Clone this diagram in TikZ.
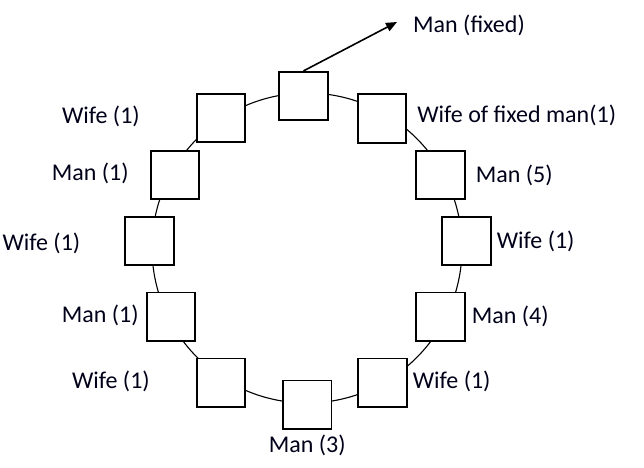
\documentclass[tikz,border=0pt]{standalone}
\usepackage{fontspec}
\setmainfont{Carlito}
\usetikzlibrary{arrows.meta, positioning}

\begin{document}
\begin{tikzpicture}[
    x=1pt, y=-1pt,
    >={Triangle[width=9pt,length=11pt]},
    every node/.style={font=\fontsize{24}{28}\selectfont},
    seat/.style={draw, line width=1.7pt, fill=white, minimum size=48.5pt, inner sep=0pt},
    lbl/.style={inner sep=0pt, text=black!90!blue},
]
\useasboundingbox (0,0) rectangle (644,467);
% the round table
\draw[line width=1.1pt] (307,248) circle (155pt);
% seats, clockwise from the fixed man
\node[seat] (m0) at (303.5,96) {};
\node[seat] (wf) at (382,118.5) {};
\node[seat] (m5) at (440.5,175) {};
\node[seat] (w5) at (466.5,241) {};
\node[seat] (m4) at (440.5,316.7) {};
\node[seat] (w4) at (382.5,382.7) {};
\node[seat] (m3) at (307.3,404.7) {};
\node[seat] (w3) at (221,382.7) {};
\node[seat] (m2) at (171,316.7) {};
\node[seat] (w2) at (149.5,241) {};
\node[seat] (m1) at (175,175) {};
\node[seat] (w1) at (221,118) {};
% the fixed man
\coordinate (tip) at (397,22);
\node[lbl, anchor=west] (lm0) at (413,25) {Man (fixed)};
\draw[->, line width=1.6pt] (m0.north) -- (tip);
% labels
\node[lbl, right=10pt of wf, yshift=3pt] (lwf) {Wife of fixed man(1)};
\node[lbl, right=10pt of m5] (lm5) {Man (5)};
\node[lbl, right=5pt of w5] (lw5) {Wife (1)};
\node[lbl, right=6pt of m4] (lm4) {Man (4)};
\node[lbl, right=5pt of w4, yshift=1.5pt] (lw4) {Wife (1)};
\node[lbl, below=5pt of m3] (lm3) {Man (3)};
\node[lbl, left=46pt of w3, yshift=1.5pt] (lw3) {Wife (1)};
\node[lbl, left=7pt of m2, yshift=1.5pt] (lm2) {Man (1)};
\node[lbl, left=44pt of w2, yshift=-2pt] (lw2) {Wife (1)};
\node[lbl, left=21pt of m1, yshift=1.5pt] (lm1) {Man (1)};
\node[lbl, left=56pt of w1, yshift=2pt] (lw1) {Wife (1)};
\end{tikzpicture}
\end{document}
